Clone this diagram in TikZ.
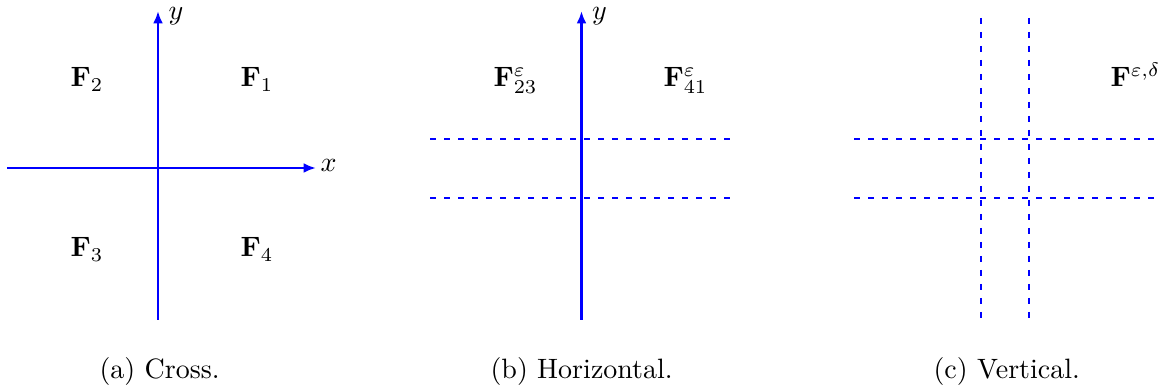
\documentclass[tikz,border=0pt]{standalone}
\usetikzlibrary{arrows.meta}
\begin{document}
\begin{tikzpicture}[x=0.35714pt,y=-0.35714pt,
  axisarrow/.style={blue,line width=0.95pt,-{Latex[length=4.4pt,width=3.5pt]}},
  dline/.style={blue,line width=0.9pt,dash pattern=on 2.3pt off 2.7pt},
  lab/.style={inner sep=0pt,anchor=base west},
  axlab/.style={inner sep=0pt,anchor=base west,text=black},
  captext/.style={inner sep=0pt,anchor=base west}]
\useasboundingbox (0,0) rectangle (1172,391);
% ---------- (a) ----------
\coordinate (ax0) at (7,168);
\coordinate (ax1) at (316,168);
\coordinate (ay0) at (158,320);
\coordinate (ay1) at (158,11);
\draw[axisarrow] (ax0) -- (ax1);
\draw[axisarrow] (ay0) -- (ay1);
\node[axlab] (xl) at (320,172) {$x$};
\node[axlab] (yl) at (168,20) {$y$};
\node[lab] (F2) at (70,87) {$\mathbf{F}_2$};
\node[lab] (F1) at (240,87) {$\mathbf{F}_1$};
\node[lab] (F3) at (70,257) {$\mathbf{F}_3$};
\node[lab] (F4) at (240,257) {$\mathbf{F}_4$};
\node[captext] (ca) at (99,379) {(a) Cross.};
% ---------- (b) ----------
\coordinate (by0) at (581.5,320);
\coordinate (by1) at (581.5,11);
\coordinate (bh1a) at (430,139);
\coordinate (bh1b) at (734,139);
\coordinate (bh2a) at (430,198);
\coordinate (bh2b) at (734,198);
\draw[dline] (bh1a) -- (bh1b);
\draw[dline] (bh2a) -- (bh2b);
\draw[axisarrow] (by0) -- (by1);
\node[axlab] (byl) at (591.5,20) {$y$};
\node[lab] (F23) at (493,87) {$\mathbf{F}^{\varepsilon}_{23}$};
\node[lab] (F41) at (663,87) {$\mathbf{F}^{\varepsilon}_{41}$};
\node[captext] (cb) at (490,379) {(b) Horizontal.};
% ---------- (c) ----------
\coordinate (cv1a) at (981,18);
\coordinate (cv1b) at (981,320);
\coordinate (cv2a) at (1029,18);
\coordinate (cv2b) at (1029,320);
\coordinate (ch1a) at (854,139);
\coordinate (ch1b) at (1158,139);
\coordinate (ch2a) at (854,198);
\coordinate (ch2b) at (1158,198);
\draw[dline] (cv1a) -- (cv1b);
\draw[dline] (cv2a) -- (cv2b);
\draw[dline] (ch1a) -- (ch1b);
\draw[dline] (ch2a) -- (ch2b);
\node[lab] (Fed) at (1110,87) {$\mathbf{F}^{\varepsilon,\delta}$};
\node[captext] (cc) at (933,379) {(c) Vertical.};
\end{tikzpicture}
\end{document}
